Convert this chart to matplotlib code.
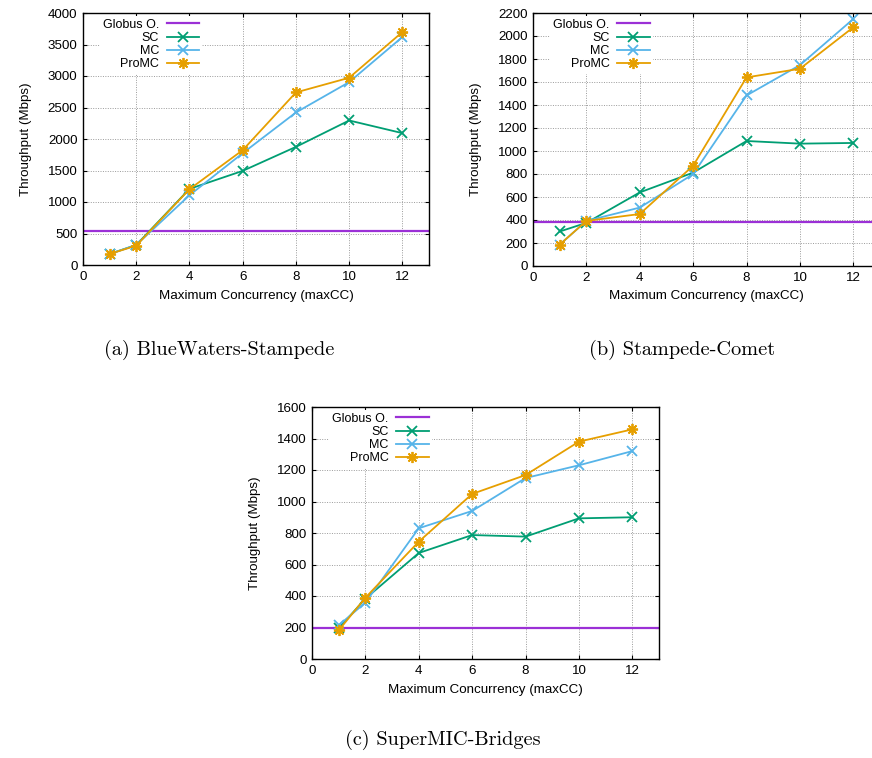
"""Throughput vs maximum concurrency for three site pairs (Globus O., SC, MC, ProMC)."""

import matplotlib
matplotlib.use("Agg")
import matplotlib.pyplot as plt

plt.rcParams["font.family"] = ["Liberation Sans", "DejaVu Sans"]

# x values shared by every panel
cc = [1, 2, 4, 6, 8, 10, 12]

# (a) BlueWaters-Stampede
bw_globus = 540
bw_sc = [175, 318, 1208, 1494, 1875, 2294, 2093]
bw_mc = [175, 318, 1107, 1775, 2421, 2903, 3619]
bw_promc = [175, 307, 1203, 1823, 2739, 2972, 3698]

# (b) Stampede-Comet
sc_globus = 382
sc_sc = [300, 375, 640, 812, 1087, 1064, 1070]
sc_mc = [186, 392, 508, 799, 1483, 1747, 2148]
sc_promc = [186, 392, 452, 872, 1640, 1715, 2076]

# (c) SuperMIC-Bridges
sm_globus = 200
sm_sc = [195, 383, 673, 787, 777, 893, 900]
sm_mc = [214, 358, 830, 940, 1149, 1230, 1320]
sm_promc = [182, 389, 745, 1048, 1168, 1380, 1458]

panels = [
    ("(a) BlueWaters-Stampede", bw_globus, bw_sc, bw_mc, bw_promc, 4000, 500),
    ("(b) Stampede-Comet", sc_globus, sc_sc, sc_mc, sc_promc, 2200, 200),
    ("(c) SuperMIC-Bridges", sm_globus, sm_sc, sm_mc, sm_promc, 1600, 200),
]

W, H = 872, 758
# axes boxes in pixels: left, top, right, bottom
boxes = [(83, 13, 429, 265), (533, 13, 880, 266), (312, 407, 659, 659)]
captions_xy = [(219, 350), (682, 350), (443, 740)]

c_globus = "#9b30d6"
c_sc = "#009e73"
c_mc = "#56b4e9"
c_promc = "#e69f00"

fig = plt.figure(figsize=(W / 100, H / 100), dpi=100)

for (caption, globus, sc, mc, promc, ymax, ystep), box, cxy in zip(panels, boxes, captions_xy):
    l, t, r, b = box
    ax = fig.add_axes([l / W, (H - b) / H, (r - l) / W, (b - t) / H])
    ax.axhline(globus, color=c_globus, linewidth=1.6, label="Globus O.")
    ax.plot(cc, sc, color=c_sc, linewidth=1.3, marker="x", markersize=7,
            markeredgewidth=1.3, label="SC")
    ax.plot(cc, mc, color=c_mc, linewidth=1.3, marker="x", markersize=7,
            markeredgewidth=1.3, label="MC")
    ax.plot(cc, promc, color=c_promc, linewidth=1.3, marker=(8, 2, 0), markersize=8,
            markeredgewidth=1.3, label="ProMC")

    ax.set_xlim(0, 13)
    ax.set_ylim(0, ymax)
    ax.set_xticks(range(0, 13, 2))
    ax.set_yticks(range(0, ymax + 1, ystep))
    ax.tick_params(direction="in", top=True, right=True, length=3, labelsize=9.6,
                   width=0.8, pad=4)
    ax.grid(True, color="#9a9a9a", linestyle=(0, (1, 1.5)), linewidth=0.7)
    for s in ax.spines.values():
        s.set_linewidth(1.0)

    ax.set_xlabel("Maximum Concurrency (maxCC)", fontsize=9.6, labelpad=5)
    ax.set_ylabel("Throughput (Mbps)", fontsize=9.6, labelpad=11)

    leg = ax.legend(loc="upper right", bbox_to_anchor=(0.345, 0.99), markerfirst=False,
                    fontsize=9, handlelength=2.6, handletextpad=0.6,
                    labelspacing=0.1, borderpad=0.25, borderaxespad=0,
                    frameon=True, fancybox=False)
    leg.get_frame().set_edgecolor("none")
    leg.get_frame().set_facecolor("white")
    leg.get_frame().set_alpha(1.0)

    fig.text(cxy[0] / W, 1 - cxy[1] / H, caption, family="cmr10", fontsize=14.6,
             ha="center", va="center")

fig.savefig("out.png", dpi=100)
